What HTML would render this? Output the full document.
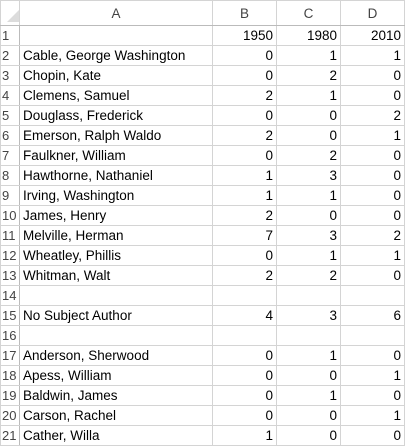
<!DOCTYPE html>
<html><head><meta charset="utf-8"><style>
body{margin:0;background:#fff;width:408px;height:448px;overflow:hidden;font-family:"Liberation Sans",sans-serif;}
table{border-collapse:collapse;table-layout:fixed;position:absolute;left:0;top:0;}
td{border:1px solid #d4d4d4;height:19px;padding:0 3px;font-size:13.5px;color:#000;white-space:nowrap;overflow:hidden;}
tr.h td{height:24px;text-align:center;color:#444;font-size:13.5px;border-bottom:1px solid #bbb;}
td.rn{color:#444;padding:0 0 0 1px;text-align:left;border-right:1px solid #bbb;font-size:13px;}
td.n{text-align:right;}
.corner{position:relative;}
</style></head><body>
<table>
<colgroup><col style="width:19px"><col style="width:193px"><col style="width:64px"><col style="width:64px"><col style="width:64px"></colgroup>
<tr class="h">
<td><svg width="12" height="12" style="position:relative;left:3px;top:4px"><polygon points="12,0 12,12 0,12" fill="#dcdcdc"/></svg></td>
<td>A</td><td>B</td><td>C</td><td>D</td></tr>
<tbody id="body"></tbody>
</table>
<script>
const names=["","Cable, George Washington","Chopin, Kate","Clemens, Samuel","Douglass, Frederick","Emerson, Ralph Waldo","Faulkner, William","Hawthorne, Nathaniel","Irving, Washington","James, Henry","Melville, Herman","Wheatley, Phillis","Whitman, Walt","","No Subject Author","","Anderson, Sherwood","Apess, William","Baldwin, James","Carson, Rachel","Cather, Willa"];
const colB=["1950",0,0,2,0,2,0,1,1,2,7,0,2,"",4,"",0,0,0,0,1];
const colC=["1980",1,2,1,0,0,2,3,1,0,3,1,2,"",3,"",1,0,1,0,0];
const colD=["2010",1,0,0,2,1,0,0,0,0,2,1,0,"",6,"",0,1,0,1,0];
const tb=document.getElementById('body');
for(let i=0;i<names.length;i++){
 const tr=document.createElement('tr');
 
 
 const rn=document.createElement('td');rn.className='rn';rn.textContent=i+1;
 
 
 tr.appendChild(rn);
 const a=document.createElement('td');a.textContent=names[i];
 
 
 tr.appendChild(a);
 [colB,colC,colD].forEach((c,k)=>{
  const td=document.createElement('td');td.className='n';td.textContent=c[i];
  
  
  tr.appendChild(td);
 });
 tb.appendChild(tr);
}
</script>
</body></html>
